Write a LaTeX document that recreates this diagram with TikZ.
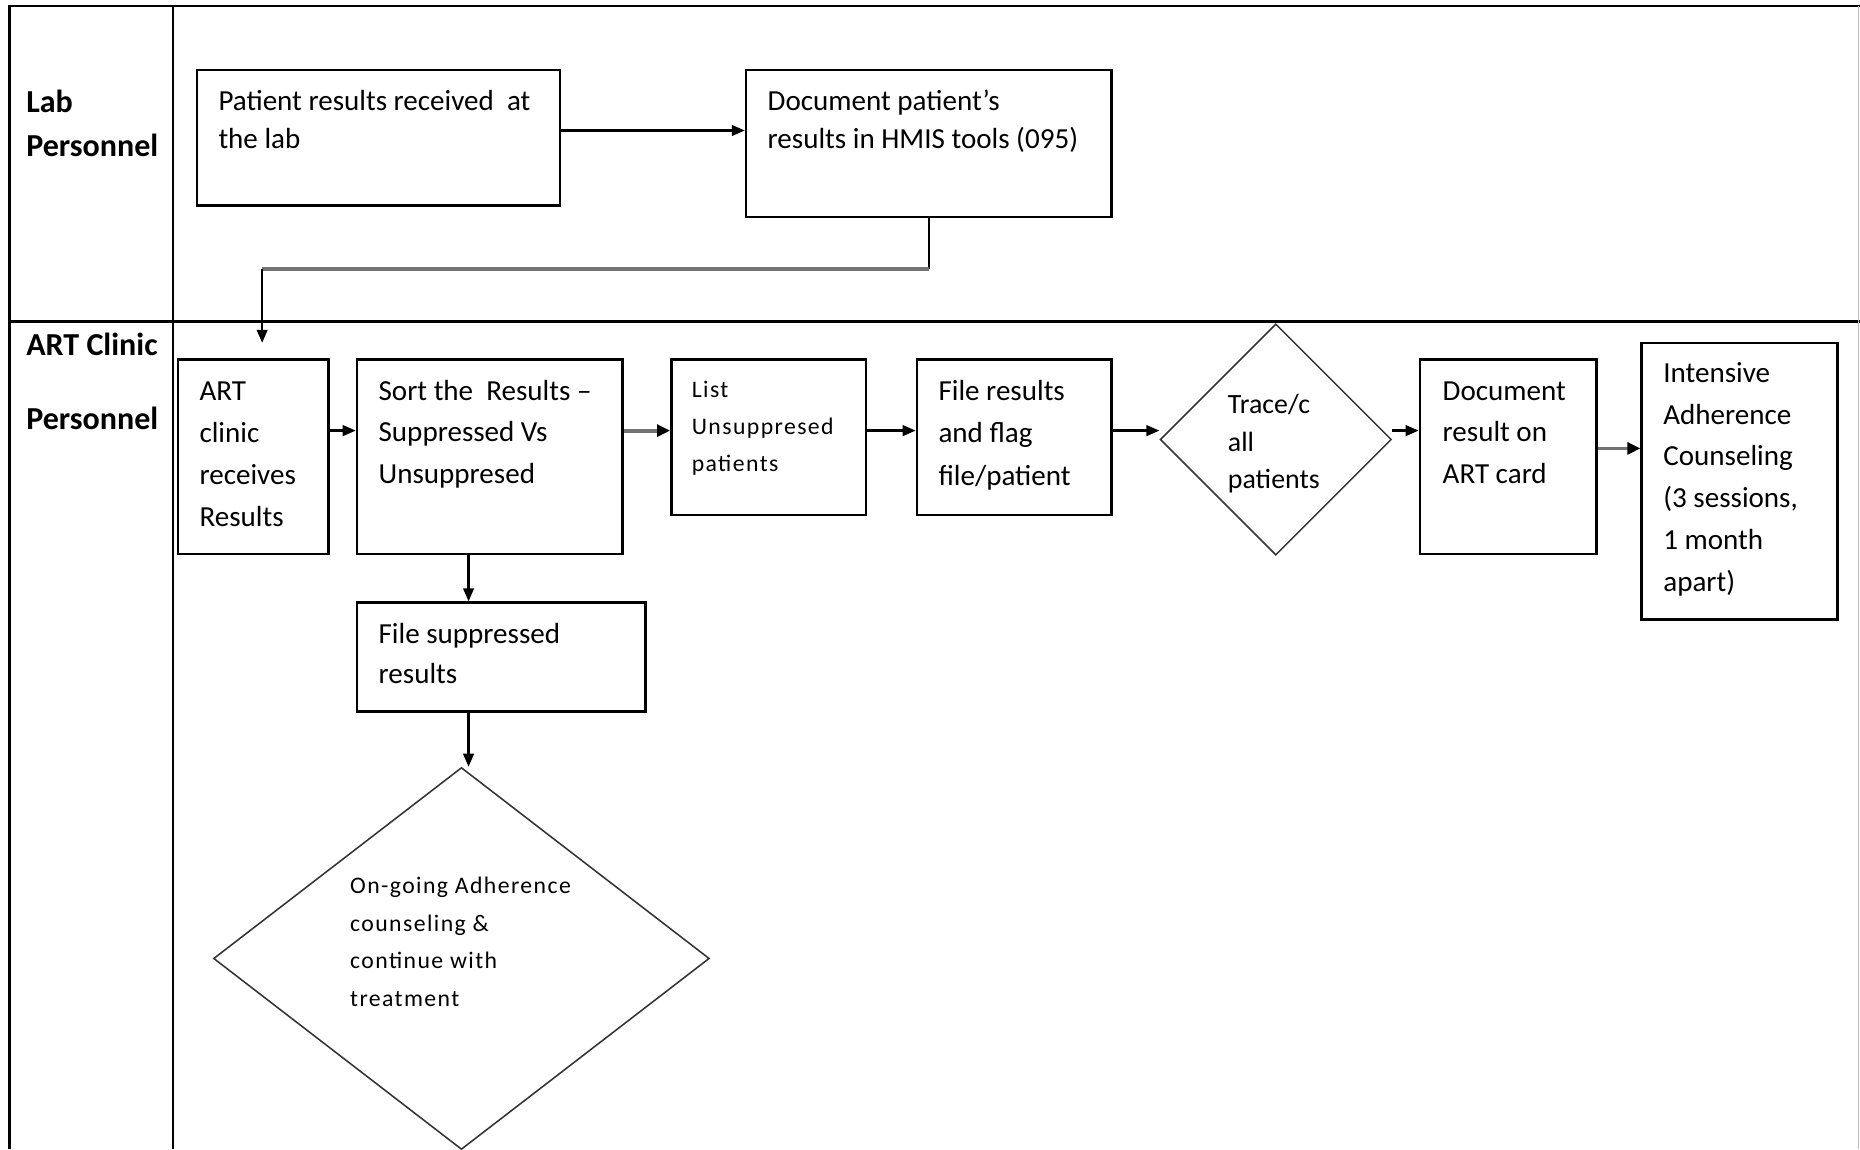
\documentclass[tikz,border=0pt]{standalone}
\usepackage{fontspec}
\setmainfont{Carlito}
\newfontfamily\widefont[LetterSpace=6]{Carlito}
\usetikzlibrary{arrows.meta,shapes.geometric,fit,calc}
\newcommand\fsz[2]{\fontsize{#1}{#2}\selectfont}
\newcommand\fl{\rule{0pt}{20pt}}
\begin{document}
\begin{tikzpicture}[x=1pt,y=-1pt,
  box/.style={draw, line width=2.2pt, inner sep=0pt},
  dia/.style={draw=black!80, line width=1.3pt, diamond, inner sep=0pt},
  txt/.style={inner sep=0pt, anchor=north west, align=left},
  lbl/.style={inner sep=0pt, anchor=base west, font={\fsz{27}{37}\bfseries}},
  arr/.style={line width=1.9pt, -{Triangle[length=11pt,width=9pt]}},
  garr/.style={line width=3.2pt, draw=black!55, -{Triangle[length=11pt,width=10pt,color=black]}},
  lane/.style={line width=2.2pt}]
\useasboundingbox (0,0) rectangle (1568,969);
\fill[white] (0,0) rectangle (1568,969);

% table
\draw[lane] (8,969) -- (8,5) -- (1568,5);
\draw[lane] (146,5) -- (146,969);
\draw[lane] (8,271) -- (1568,271);
\draw[black!25, line width=0.8pt] (1567,5) -- (1567,969);

% lane labels
\node[lbl] (lab1) at (22,95) {Lab};
\node[lbl] (lab2) at (22,132) {Personnel};
\node[lbl] (art1) at (22,300) {ART Clinic};
\node[lbl] (art2) at (22,362) {Personnel};

% boxes
\node[box, fit={(166,59) (472,173)}] (b1) {};
\node[box, fit={(629,59) (937,183)}] (b2) {};
\node[box, fit={(150,303) (277,467)}] (b3) {};
\node[box, fit={(301,303) (525,467)}] (b4) {};
\node[box, fit={(566,303) (730,434)}] (b5) {};
\node[box, fit={(773,303) (937,434)}] (b6) {};
\node[dia, minimum width=195pt, minimum height=195pt] (d7) at (1075.5,370.5) {};
\node[box, fit={(1197,303) (1346,467)}] (b8) {};
\node[box, fit={(1384,289) (1549,522)}] (b9) {};
\node[box, fit={(301,508) (544,600)}] (b10) {};
\node[dia, minimum width=418pt, minimum height=322pt] (d11) at (389,808) {};

% texts
\node[txt, font={\fsz{24.5}{32}}] (t1) at (184,73) {\fl Patient results received\ \ at\\the lab};
\node[txt, font={\fsz{24.5}{32}}] (t2) at (647,73) {\fl Document patient’s\\results in HMIS tools (095)};
\node[txt, font={\fsz{24.5}{35.5}}] (t3) at (168,317) {\fl ART\\clinic\\receives\\Results};
\node[txt, font={\fsz{24.5}{35}}] (t4) at (319,317) {\fl Sort the\ \ Results –\\Suppressed Vs\\Unsuppresed};
\node[txt, font={\widefont\fsz{20}{31}}] (t5) at (583,315) {\fl List\\Unsuppresed\\patients};
\node[txt, font={\fsz{24.5}{36}}] (t6) at (791,317) {\fl File results\\and flag\\file/patient};
\node[txt, font={\fsz{23.5}{32}}] (t7) at (1035,328) {\fl Trace/c\\all\\patients};
\node[txt, font={\fsz{24.5}{35}}] (t8) at (1216,317) {\fl Document\\result on\\ART card};
\node[txt, font={\fsz{24.5}{35.3}}] (t9) at (1402,302) {\fl Intensive\\Adherence\\Counseling\\(3 sessions,\\1 month\\apart)};
\node[txt, font={\fsz{24.5}{34}}] (t10) at (319,522) {\fl File suppressed\\results};
\node[txt, font={\widefont\fsz{20}{31.7}}] (t11) at (295,733) {\fl On-going Adherence\\counseling \&\\continue with\\treatment};

% connectors
\coordinate (r0) at (0,110);
\draw[arr] (b1.east |- r0) -- (b2.west |- r0);
\coordinate (k1) at (783,227);
\coordinate (k2) at (221,227);
\coordinate (e1) at (221,289);
\draw[line width=1.9pt] (b2.south) -- (k1);
\draw[line width=3.2pt, black!55] (k1) -- (k2);
\draw[arr] (k2) -- (e1);

\coordinate (r1) at (0,363);
\draw[arr] (b3.east |- r1) -- (b4.west |- r1);
\draw[garr] (b4.east |- r1) -- (b5.west |- r1);
\draw[arr] (b5.east |- r1) -- (b6.west |- r1);
\draw[arr] (b6.east |- r1) -- (d7.west |- r1);
\draw[arr] (d7.east |- r1) -- (b8.west |- r1);
\coordinate (r2) at (0,378);
\draw[garr] (b8.east |- r2) -- (b9.west |- r2);
\coordinate (c2) at (395,0);
\draw[arr] (b4.south -| c2) -- (b10.north -| c2);
\draw[arr] (b10.south -| c2) -- (d11.north -| c2);
\end{tikzpicture}
\end{document}
